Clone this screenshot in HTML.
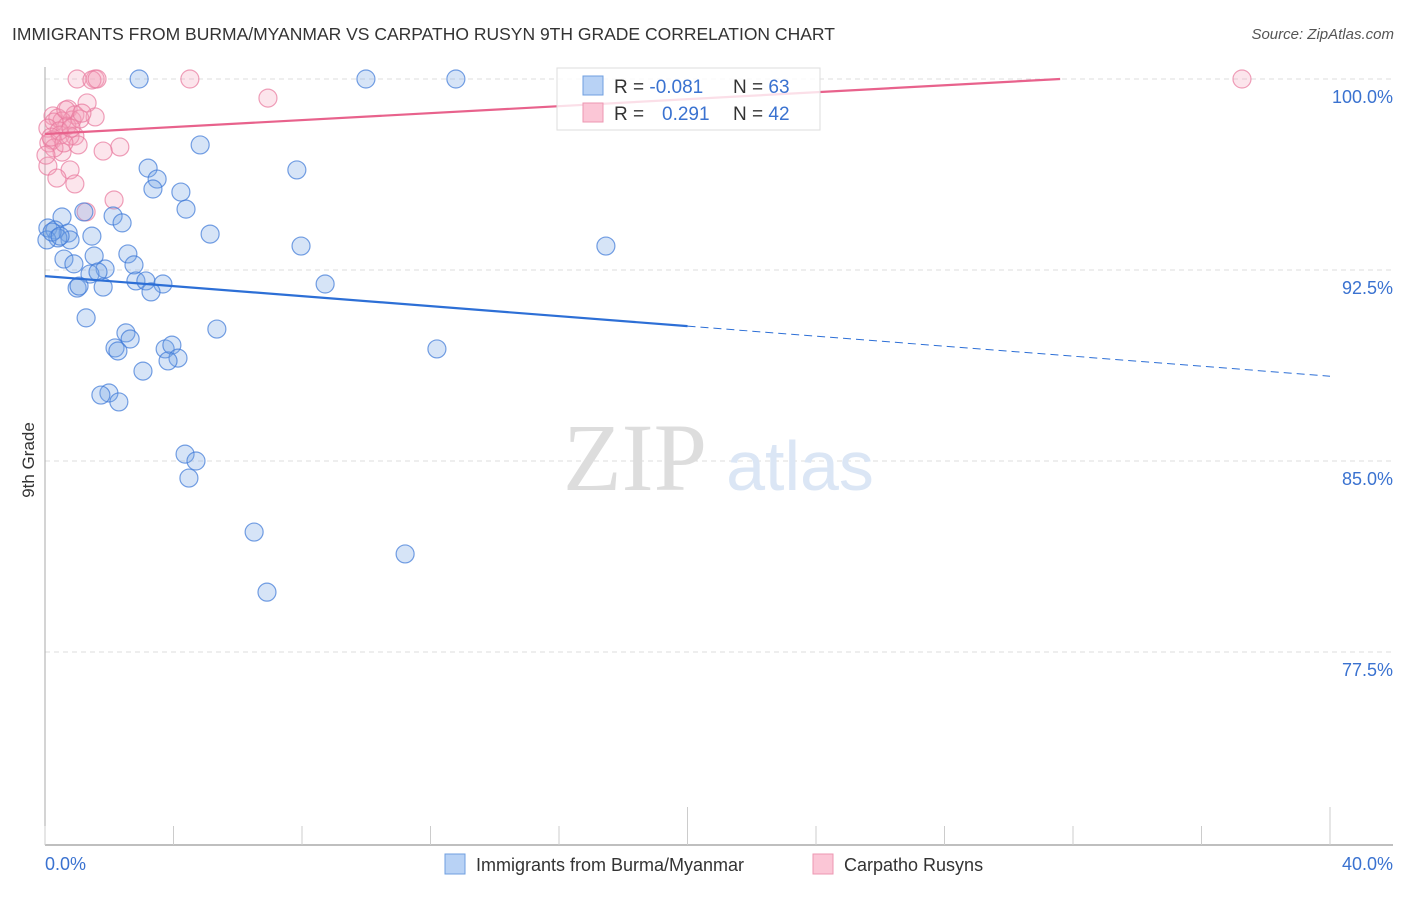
<!DOCTYPE html>
<html><head><meta charset="utf-8"><style>
body{margin:0;background:#fff;font-family:"Liberation Sans",sans-serif;}
svg text{font-family:"Liberation Sans",sans-serif;}
</style></head><body>
<svg width="1406" height="892" viewBox="0 0 1406 892">
<text x="12" y="40" font-size="17.5" fill="#333">IMMIGRANTS FROM BURMA/MYANMAR VS CARPATHO RUSYN 9TH GRADE CORRELATION CHART</text>
<text x="1394" y="39" font-size="15" fill="#555" font-style="italic" text-anchor="end">Source: ZipAtlas.com</text>
<g id="grid"></g>
<g>
<text x="635" y="490" font-size="96" fill="#ddd" text-anchor="middle" style="font-family:'Liberation Serif',serif">ZIP</text>
<text x="800" y="490" font-size="70" fill="#dbe6f5" text-anchor="middle">atlas</text>
</g>
<g id="axes"></g>
<g id="pts"></g>
<g id="lines"></g>
<text x="34" y="460" font-size="17" fill="#333" text-anchor="middle" transform="rotate(-90 34 460)">9th Grade</text>
<g>
<rect x="557" y="68" width="263" height="62" fill="rgba(255,255,255,0.8)" stroke="#ddd"/>
<rect x="583" y="76" width="20" height="19" fill="#b8d2f5" stroke="#6f9fe0"/>
<rect x="583" y="103" width="20" height="19" fill="#fbc6d6" stroke="#ec97b2"/>
<text x="614" y="93" font-size="19" fill="#333">R = <tspan fill="#3a72d0">-0.081</tspan><tspan x="733">N = </tspan><tspan fill="#3a72d0">63</tspan></text>
<text x="614" y="120" font-size="19" fill="#333">R = <tspan x="662" fill="#3a72d0">0.291</tspan><tspan x="733">N = </tspan><tspan fill="#3a72d0">42</tspan></text>
</g>
<g>
<rect x="445" y="854" width="20" height="20" fill="#b8d2f5" stroke="#6f9fe0"/>
<text x="476" y="871" font-size="18" fill="#333">Immigrants from Burma/Myanmar</text>
<rect x="813" y="854" width="20" height="20" fill="#fbc6d6" stroke="#ec97b2"/>
<text x="844" y="871" font-size="18" fill="#333">Carpatho Rusyns</text>
</g>
</svg>
<script>
const blueX=[2.93,9.99,12.79,4.83,3.21,7.84,3.49,4.23,3.36,4.39,1.21,2.12,0.53,2.40,0.09,0.31,5.14,1.46,0.72,0.78,0.40,7.97,17.46,2.58,1.53,0.59,0.90,2.77,1.87,1.40,1.65,2.83,3.14,3.67,8.72,1.00,1.06,1.81,3.30,1.28,2.52,5.35,2.65,2.18,2.27,3.74,3.95,4.14,3.83,12.20,3.05,1.99,1.74,2.30,4.36,4.70,4.48,6.51,11.21,6.91,0.06,0.22,0.47];
const blueY=[100,100,100,97.41,96.50,96.43,96.07,95.56,95.68,94.89,94.78,94.62,94.58,94.35,94.15,94.07,93.91,93.83,93.95,93.68,93.76,93.44,93.44,93.13,93.05,92.93,92.74,92.70,92.54,92.34,92.42,92.07,92.07,91.95,91.95,91.79,91.87,91.83,91.64,90.62,90.03,90.18,89.79,89.44,89.32,89.40,89.55,89.04,88.93,89.40,88.53,87.67,87.59,87.32,85.27,85.00,84.33,82.21,81.35,79.85,93.68,93.99,93.83];
const pinkX=[1.00,1.56,1.46,1.62,4.51,37.26,6.94,1.31,0.72,0.25,0.40,0.93,1.56,0.84,0.53,0.68,0.28,0.09,0.47,0.93,0.78,0.22,0.12,1.03,2.33,1.81,0.53,0.09,0.78,0.37,0.93,2.15,1.28,0.28,0.65,1.09,0.44,0.03,0.19,0.59,1.15,0.81];
const pinkY=[100,100,99.96,100,100,100,99.25,99.06,98.82,98.55,98.47,98.59,98.51,98.39,98.35,98.15,98.31,98.07,97.80,97.76,97.76,97.60,97.49,97.41,97.33,97.17,97.13,96.58,96.43,96.11,95.88,95.25,94.78,97.29,98.78,98.43,97.96,97.01,97.72,97.49,98.66,98.07];
const trendBlue=[92.26,88.33];
const trendPink=[97.84,100.0];
const trendPinkEndX=31.6;
const xTicks=[0,4,8,12,16,20,24,28,32,36,40];
const yTicks=[100,92.5,85,77.5];
const yTickLabels=["100.0%","92.5%","85.0%","77.5%"];
const NS="http://www.w3.org/2000/svg";
const X=v=>45+(v/40)*1285, Y=v=>79+(100-v)/7.5*191;
function mk(t,a,p){const e=document.createElementNS(NS,t);for(const k in a)e.setAttribute(k,a[k]);p.appendChild(e);return e;}
const grid=document.getElementById('grid'),axes=document.getElementById('axes');
yTicks.forEach((v,i)=>{
 const l=mk('line',{x1:45,x2:1393,y1:Y(v),y2:Y(v),stroke:'#ddd','stroke-dasharray':'5,4'},grid);
 
 
 const t=mk('text',{x:1393,y:Y(v)+24,'font-size':18,fill:'#3a72d0','text-anchor':'end'},axes);
 t.textContent=yTickLabels[i];
 
 
});
const yl=mk('line',{x1:45,x2:45,y1:67,y2:845,stroke:'#aaa'},axes);


const xl=mk('line',{x1:45,x2:1393,y1:845,y2:845,stroke:'#aaa','stroke-width':1.5},axes);


xTicks.forEach(v=>{
 const major=(v===20||v===40);
 const t=mk('line',{x1:X(v),x2:X(v),y1:major?807:826,y2:845,stroke:'#ccc'},axes);
 
 
});
const x0=mk('text',{x:45,y:870,'font-size':18,fill:'#3a72d0'},axes);x0.textContent='0.0%';


const x1=mk('text',{x:1393,y:870,'font-size':18,fill:'#3a72d0','text-anchor':'end'},axes);x1.textContent='40.0%';


const pts=document.getElementById('pts');
pinkX.forEach((v,i)=>{
 const c=mk('circle',{cx:X(v),cy:Y(pinkY[i]),r:9,fill:'rgba(246,160,188,0.28)',stroke:'rgba(232,120,156,0.7)','stroke-width':1.2},pts);
 
 
});
blueX.forEach((v,i)=>{
 const c=mk('circle',{cx:X(v),cy:Y(blueY[i]),r:9,fill:'rgba(120,165,230,0.3)',stroke:'rgba(60,120,215,0.7)','stroke-width':1.2},pts);
 
 
});
const lines=document.getElementById('lines');
const bAt=x=>trendBlue[0]+(trendBlue[1]-trendBlue[0])*x/40;
const b1=mk('line',{x1:X(0),y1:Y(bAt(0)),x2:X(20),y2:Y(bAt(20)),stroke:'#2d6fd6','stroke-width':2.2},lines);


const b2=mk('line',{x1:X(20),y1:Y(bAt(20)),x2:X(40),y2:Y(bAt(40)),stroke:'#2d6fd6','stroke-width':1,'stroke-dasharray':'8,5'},lines);


const p1=mk('line',{x1:X(0),y1:Y(trendPink[0]),x2:X(trendPinkEndX),y2:Y(trendPink[1]),stroke:'#e8628c','stroke-width':2.2},lines);


</script>
</body></html>
